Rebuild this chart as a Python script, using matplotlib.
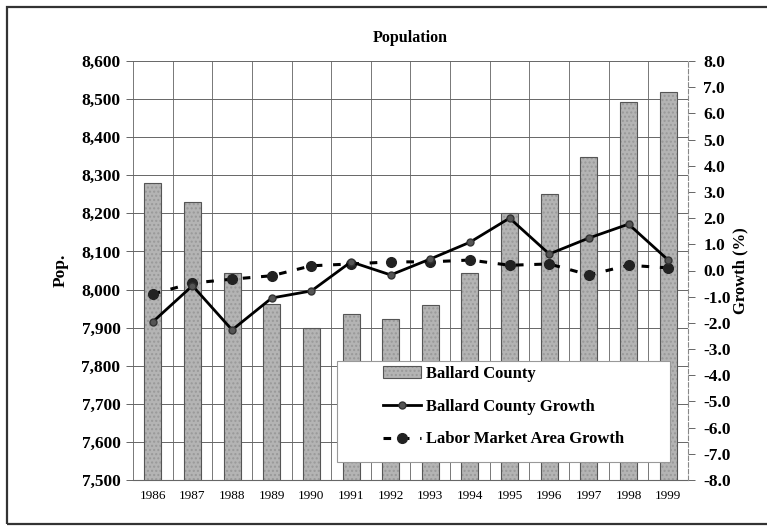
import numpy as np
import matplotlib
matplotlib.use("Agg")
import matplotlib.pyplot as plt
from matplotlib.patches import Rectangle

plt.rcParams["font.family"] = ["Liberation Serif", "DejaVu Serif"]

years = ["1986", "1987", "1988", "1989", "1990", "1991", "1992",
         "1993", "1994", "1995", "1996", "1997", "1998", "1999"]
pop = [8280, 8230, 8044, 7962, 7900, 7936, 7923,
       7960, 8044, 8201, 8250, 8348, 8492, 8519]
county_growth = [-1.96, -0.58, -2.27, -1.05, -0.78, 0.33, -0.17,
                 0.44, 1.08, 2.0, 0.63, 1.24, 1.77, 0.4]
lma_growth = [-0.9, -0.48, -0.33, -0.2, 0.18, 0.25, 0.33,
              0.33, 0.4, 0.2, 0.25, -0.17, 0.2, 0.1]
pop_ticks = list(range(7500, 8601, 100))
growth_ticks = [float(v) for v in range(-8, 9)]

W, H = 767, 527
fig = plt.figure(figsize=(W / 100, H / 100), dpi=100)
fig.patch.set_facecolor("white")
fig.add_artist(Rectangle((7 / W, 3 / H), 1.0, 1 - 10 / H, transform=fig.transFigure,
                         fill=False, ec="#333333", lw=1.6))

AX_L, AX_R, AX_T, AX_B = 133, 688, 61, 480
ax = fig.add_axes([AX_L / W, 1 - AX_B / H, (AX_R - AX_L) / W, (AX_B - AX_T) / H])
x = np.arange(len(years))
bars = ax.bar(x, pop, width=0.43, color="#b4b4b4", edgecolor="#555555", lw=0.8,
              hatch="....", zorder=2, label="Ballard County")
for b in bars:
    b._hatch_color = (0.6, 0.6, 0.6, 1.0)
ax.set_xlim(-0.5, len(years) - 0.5)
ax.set_ylim(7500, 8600)
ax.set_yticks(pop_ticks)
ax.set_yticklabels([f"{v:,}" for v in pop_ticks], fontsize=12.5, fontweight="bold")
ax.set_xticks(x)
ax.set_xticklabels(years, fontsize=9.5)
ax.set_xticks(np.arange(-0.5, len(years), 1), minor=True)
ax.grid(True, which="minor", axis="x", color="#777777", lw=0.7, zorder=0)
ax.grid(True, which="major", axis="y", color="#666666", lw=0.7, zorder=0)
ax.tick_params(axis="x", which="both", length=0, pad=7)
ax.tick_params(axis="y", length=5, width=0.7, color="#666666", pad=4)
for s in ["top", "right", "left"]:
    ax.spines[s].set_visible(False)
ax.spines["bottom"].set_color("#666666")
ax.set_ylabel("Pop.", fontsize=12.5, fontweight="bold", labelpad=9)
ax.set_title("Population", fontsize=11.5, fontweight="bold", pad=14)

ax2 = ax.twinx()
ax2.set_ylim(-8, 8)
ax2.set_yticks(growth_ticks)
ax2.set_yticklabels([f"{v:.1f}" for v in growth_ticks], fontsize=12.5, fontweight="bold")
ax2.tick_params(axis="y", length=5, width=0.7, color="#666666", pad=6)
for s in ["top", "left", "bottom"]:
    ax2.spines[s].set_visible(False)
ax2.spines["right"].set_color("#888888")
ax2.spines["right"].set_linestyle((0, (4, 2)))
l1, = ax2.plot(x, county_growth, "-", color="black", lw=2, marker="o", ms=5,
               mfc="#555555", mec="#333333", zorder=4, label="Ballard County Growth")
l2, = ax2.plot(x, lma_growth, color="black", lw=2.2, ls=(0, (2.5, 3.5)), marker="o", ms=7,
               mfc="#222222", mec="#222222", zorder=3, label="Labor Market Area Growth")
ax2.set_ylabel("Growth (%)", fontsize=12, fontweight="bold", labelpad=1)

# legend box (white panel drawn separately, entries placed inside with a wide left margin)
def ax_frac(px, py):
    return (px - AX_L) / (AX_R - AX_L), (AX_B - py) / (AX_B - AX_T)
bx0, by0 = ax_frac(337, 462)
bx1, by1 = ax_frac(670, 361)
ax2.add_patch(Rectangle((bx0, by0), bx1 - bx0, by1 - by0, transform=ax2.transAxes,
                        facecolor="white", edgecolor="#999999", lw=0.8, zorder=9))
lx, ly = ax_frac(383, 366)
leg = ax2.legend([bars, l1, l2], ["Ballard County", "Ballard County Growth",
                                   "Labor Market Area Growth"],
                 loc="upper left", bbox_to_anchor=(lx, ly),
                 prop={"weight": "bold", "size": 12}, frameon=False,
                 handlelength=2.3, handletextpad=0.3, labelspacing=1.0,
                 borderpad=0, borderaxespad=0)
leg.set_zorder(10)

fig.savefig("out.png", dpi=100, facecolor="white")
